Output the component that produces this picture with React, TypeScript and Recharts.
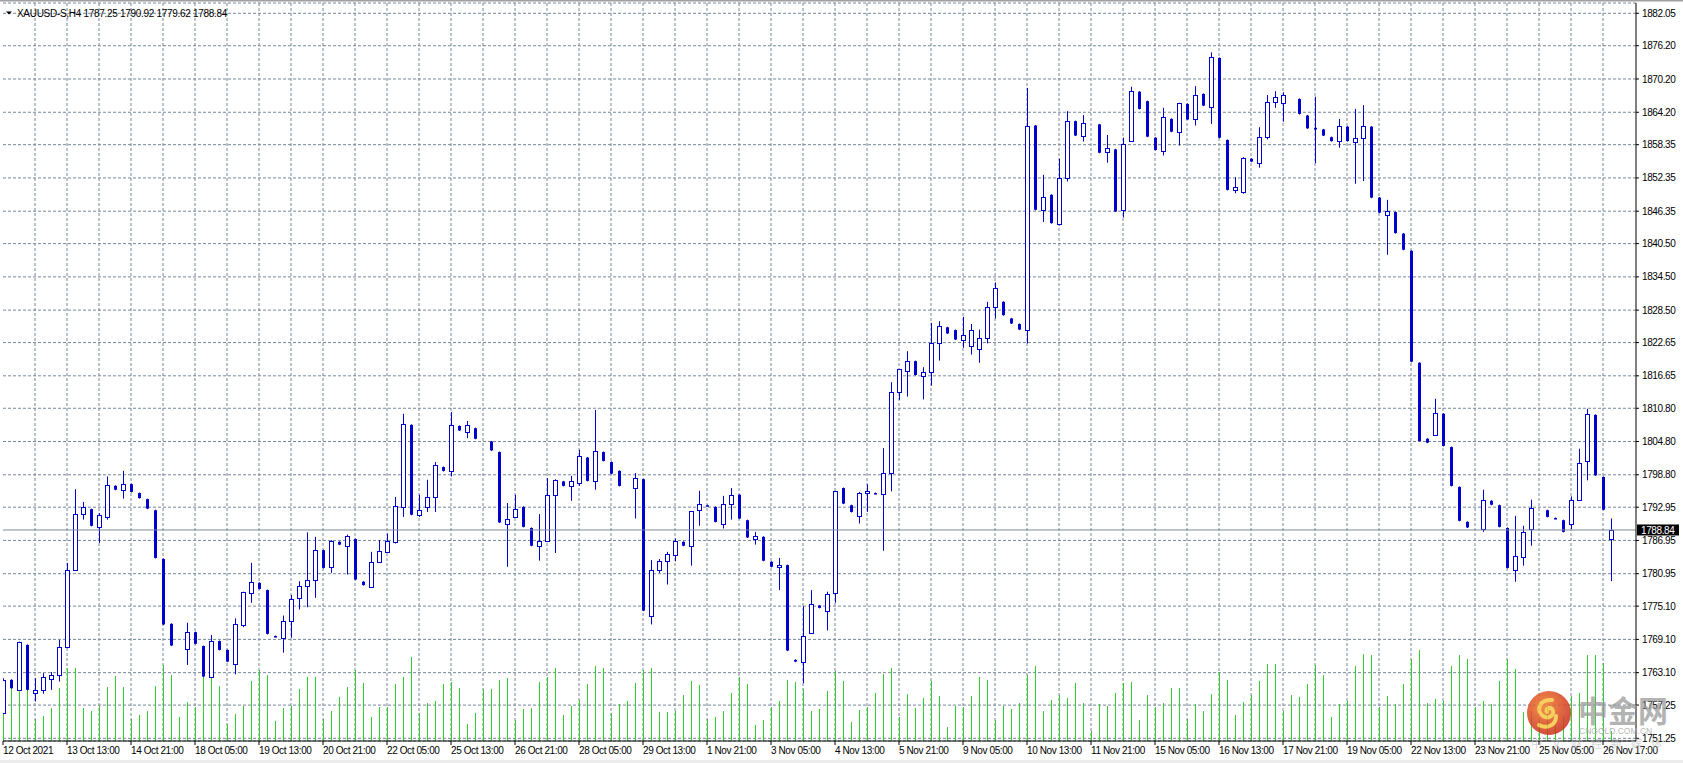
import React from 'react';
import { ComposedChart, Bar, XAxis, YAxis, CartesianGrid, ReferenceLine } from 'recharts';

const W = 1683;
const H = 763;
const XMAX = 204.125;
const FONT = '"Liberation Sans", Arial, sans-serif';
const BLUE = '#0000cd';
const GRID = '#778899';

const opens = [
  1755.9, 1761.8, 1760.0, 1768.1, 1759.4, 1760.0, 1762.0, 1762.6, 1767.7, 1781.6,
  1791.7, 1792.6, 1789.3, 1791.2, 1796.8, 1796.0, 1797.1, 1795.5, 1794.4, 1792.4,
  1783.6, 1771.9, 1768.2, 1767.4, 1770.4, 1767.9, 1762.3, 1768.8, 1767.2, 1764.7,
  1771.7, 1777.4, 1779.3, 1778.0, 1769.7, 1769.3, 1772.4, 1776.5, 1778.8, 1779.9,
  1785.2, 1782.2, 1786.7, 1785.9, 1787.2, 1779.5, 1778.6, 1783.1, 1784.9, 1786.6,
  1793.0, 1807.8, 1791.6, 1793.0, 1794.7, 1800.2, 1799.4, 1807.6, 1806.6, 1807.2,
  1805.1, 1804.8, 1802.9, 1789.9, 1791.1, 1793.0, 1789.2, 1785.9, 1786.8, 1795.1,
  1797.6, 1796.7, 1797.4, 1801.9, 1797.6, 1802.9, 1801.1, 1799.5, 1796.6, 1796.4,
  1798.0, 1773.4, 1781.7, 1783.2, 1784.4, 1786.7, 1785.9, 1792.4, 1793.3, 1793.0,
  1790.0, 1793.6, 1795.2, 1790.6, 1787.3, 1787.6, 1783.1, 1782.1, 1782.5, 1765.4,
  1765.0, 1770.3, 1775.2, 1774.3, 1777.4, 1796.4, 1793.3, 1791.3, 1795.5, 1795.5,
  1795.3, 1799.2, 1813.7, 1817.6, 1819.3, 1816.7, 1817.3, 1822.5, 1825.4, 1824.9,
  1823.1, 1822.0, 1821.5, 1823.5, 1829.0, 1830.0, 1827.0, 1826.0, 1825.0, 1861.8,
  1846.6, 1849.3, 1844.0, 1852.3, 1862.6, 1859.9, 1862.1, 1862.0, 1857.0, 1857.5,
  1846.5, 1859.1, 1867.9, 1866.2, 1859.6, 1857.3, 1863.0, 1860.6, 1865.7, 1862.9,
  1867.5, 1865.2, 1874.0, 1859.2, 1850.1, 1849.9, 1855.8, 1855.0, 1859.7, 1866.0,
  1865.8, 1866.6, 1866.6, 1863.6, 1861.4, 1861.1, 1859.7, 1859.0, 1861.6, 1858.8,
  1859.5, 1861.6, 1848.8, 1845.6, 1846.2, 1842.3, 1839.2, 1819.0, 1805.3, 1805.9,
  1809.8, 1803.8, 1796.6, 1790.3, 1789.2, 1789.1, 1794.1, 1793.3, 1789.2, 1781.7,
  1784.0, 1789.1, 1792.0, 1792.4, 1791.0, 1790.6, 1789.9, 1794.2, 1801.2, 1809.6,
  1798.4, 1787.25,
];

const highs = [
  1762.1, 1761.9, 1768.7, 1768.2, 1762.1, 1763.0, 1763.2, 1769.0, 1782.9, 1796.2,
  1793.9, 1792.7, 1791.9, 1798.5, 1796.9, 1799.5, 1797.2, 1795.6, 1794.5, 1792.5,
  1783.7, 1772.0, 1768.3, 1772.1, 1770.5, 1768.0, 1769.9, 1768.9, 1767.3, 1772.9,
  1777.7, 1782.9, 1779.4, 1778.1, 1769.8, 1773.4, 1777.1, 1779.6, 1788.4, 1787.6,
  1785.3, 1787.0, 1786.8, 1788.0, 1787.3, 1779.6, 1784.9, 1787.0, 1788.2, 1794.8,
  1809.8, 1807.9, 1795.2, 1797.9, 1801.1, 1800.3, 1810.1, 1807.7, 1808.5, 1807.3,
  1805.2, 1804.9, 1803.0, 1793.7, 1795.2, 1793.1, 1789.3, 1791.7, 1798.2, 1798.0,
  1797.7, 1798.6, 1803.3, 1802.0, 1810.5, 1803.0, 1801.2, 1799.6, 1796.7, 1799.1,
  1798.1, 1783.4, 1783.6, 1784.9, 1787.3, 1786.8, 1792.2, 1795.9, 1793.4, 1793.1,
  1795.0, 1796.4, 1795.3, 1790.7, 1788.5, 1787.7, 1783.2, 1783.8, 1782.6, 1765.5,
  1775.1, 1778.0, 1775.3, 1777.7, 1795.9, 1796.5, 1793.4, 1795.7, 1797.1, 1795.6,
  1803.6, 1815.5, 1817.9, 1821.1, 1819.4, 1818.2, 1826.2, 1826.5, 1825.5, 1825.0,
  1827.3, 1826.0, 1825.0, 1830.0, 1833.5, 1830.1, 1827.1, 1826.1, 1868.6, 1861.9,
  1852.9, 1849.4, 1855.8, 1864.4, 1862.7, 1863.7, 1862.2, 1862.1, 1860.1, 1857.6,
  1859.6, 1868.8, 1868.0, 1866.3, 1859.7, 1865.0, 1863.1, 1865.9, 1865.8, 1868.9,
  1867.6, 1875.0, 1874.1, 1859.3, 1852.5, 1856.1, 1855.9, 1861.5, 1867.3, 1868.0,
  1867.8, 1866.7, 1866.7, 1863.7, 1867.0, 1861.2, 1859.8, 1863.0, 1861.7, 1864.8,
  1865.5, 1861.7, 1848.9, 1848.4, 1846.3, 1842.4, 1839.3, 1819.1, 1805.4, 1812.5,
  1809.9, 1803.9, 1796.7, 1790.4, 1789.3, 1796.1, 1794.2, 1793.4, 1789.3, 1791.4,
  1789.6, 1794.3, 1792.1, 1792.5, 1791.1, 1790.7, 1794.9, 1803.5, 1810.7, 1809.7,
  1798.5, 1790.92,
];

const lows = [
  1755.7, 1760.2, 1759.9, 1759.9, 1757.9, 1759.3, 1760.0, 1761.5, 1767.5, 1781.5,
  1790.7, 1789.5, 1786.5, 1790.7, 1796.0, 1794.5, 1795.6, 1794.5, 1792.6, 1783.7,
  1771.7, 1767.9, 1768.1, 1764.5, 1768.2, 1762.3, 1762.2, 1767.1, 1765.0, 1762.8,
  1771.3, 1775.7, 1778.1, 1770.0, 1769.5, 1766.7, 1769.4, 1774.5, 1774.9, 1776.6,
  1781.9, 1781.1, 1786.1, 1780.8, 1779.8, 1778.8, 1778.4, 1782.9, 1784.7, 1786.4,
  1791.2, 1791.5, 1791.2, 1792.1, 1792.1, 1799.4, 1798.5, 1806.7, 1805.4, 1805.2,
  1805.0, 1803.1, 1790.1, 1782.2, 1791.0, 1789.3, 1785.9, 1783.3, 1786.7, 1784.7,
  1796.7, 1794.1, 1796.8, 1797.6, 1796.1, 1801.2, 1798.9, 1796.7, 1796.5, 1790.9,
  1774.2, 1771.8, 1781.1, 1779.0, 1783.2, 1785.9, 1782.4, 1789.6, 1793.2, 1790.2,
  1789.1, 1790.7, 1790.8, 1787.4, 1786.2, 1783.2, 1782.1, 1778.0, 1767.0, 1765.0,
  1761.2, 1770.2, 1774.7, 1770.7, 1775.7, 1793.5, 1792.0, 1790.0, 1792.1, 1795.4,
  1785.1, 1795.8, 1812.3, 1812.9, 1816.7, 1812.4, 1814.9, 1819.4, 1824.2, 1823.1,
  1821.7, 1820.5, 1819.0, 1822.5, 1827.0, 1827.5, 1826.0, 1824.9, 1822.5, 1846.5,
  1844.4, 1844.1, 1843.8, 1851.7, 1859.9, 1858.9, 1862.0, 1856.8, 1855.1, 1846.2,
  1845.2, 1859.0, 1864.7, 1859.7, 1857.3, 1856.4, 1860.6, 1858.2, 1862.8, 1861.8,
  1865.3, 1862.1, 1859.5, 1850.1, 1849.6, 1849.5, 1855.2, 1854.2, 1859.3, 1865.0,
  1862.5, 1866.5, 1863.8, 1861.2, 1855.0, 1859.9, 1858.9, 1857.8, 1858.9, 1851.3,
  1851.8, 1848.7, 1846.0, 1838.5, 1842.3, 1839.3, 1819.1, 1804.8, 1804.5, 1805.8,
  1803.9, 1796.7, 1790.4, 1789.2, 1789.1, 1788.5, 1793.3, 1789.3, 1781.9, 1779.5,
  1782.4, 1786.0, 1791.9, 1791.1, 1790.8, 1788.4, 1789.0, 1794.1, 1797.8, 1798.6,
  1792.4, 1779.62,
];

const closes = [
  1761.8, 1760.3, 1768.6, 1760.0, 1760.0, 1762.3, 1762.6, 1767.7, 1781.7, 1791.7,
  1793.0, 1789.6, 1791.5, 1796.9, 1796.1, 1797.1, 1795.7, 1794.6, 1792.7, 1783.8,
  1771.8, 1768.0, 1768.2, 1770.5, 1768.3, 1762.4, 1768.8, 1767.2, 1765.1, 1771.8,
  1777.6, 1779.4, 1778.2, 1770.1, 1769.6, 1772.4, 1776.3, 1778.8, 1779.9, 1785.3,
  1782.0, 1786.9, 1786.2, 1787.8, 1779.9, 1778.9, 1783.0, 1785.0, 1786.8, 1793.1,
  1808.0, 1791.6, 1792.4, 1794.7, 1800.5, 1799.5, 1807.7, 1806.8, 1807.7, 1805.3,
  1805.1, 1803.2, 1790.2, 1790.9, 1792.7, 1789.4, 1786.0, 1786.8, 1795.1, 1797.8,
  1796.8, 1797.6, 1802.1, 1797.7, 1803.0, 1801.3, 1799.0, 1796.8, 1796.6, 1798.2,
  1774.3, 1781.6, 1783.2, 1784.5, 1786.8, 1786.0, 1792.2, 1793.5, 1793.2, 1790.3,
  1793.6, 1795.1, 1790.9, 1787.5, 1787.8, 1783.3, 1782.2, 1782.5, 1767.1, 1765.1,
  1769.7, 1775.4, 1774.8, 1777.2, 1795.8, 1793.6, 1792.1, 1795.5, 1795.8, 1795.4,
  1799.2, 1813.7, 1817.8, 1819.4, 1816.8, 1817.3, 1822.5, 1825.6, 1824.3, 1823.2,
  1824.0, 1825.0, 1823.5, 1829.0, 1832.5, 1827.6, 1826.1, 1825.0, 1861.7, 1846.6,
  1849.0, 1844.2, 1852.3, 1862.7, 1860.0, 1862.2, 1862.1, 1856.9, 1857.7, 1846.3,
  1858.4, 1868.0, 1864.8, 1859.8, 1857.4, 1863.3, 1860.7, 1865.8, 1862.9, 1867.4,
  1865.4, 1874.1, 1859.6, 1850.2, 1850.8, 1855.9, 1855.3, 1859.7, 1866.0, 1867.0,
  1867.3, 1866.6, 1863.9, 1861.3, 1861.1, 1860.0, 1859.0, 1861.7, 1859.0, 1859.5,
  1861.7, 1848.8, 1846.1, 1846.4, 1842.4, 1839.4, 1819.2, 1804.9, 1804.6, 1809.9,
  1804.0, 1796.8, 1790.5, 1789.3, 1789.2, 1794.2, 1793.4, 1789.4, 1782.0, 1784.1,
  1788.4, 1792.8, 1792.0, 1791.2, 1790.9, 1788.5, 1794.2, 1801.0, 1809.7, 1798.7,
  1792.5, 1788.84,
];

const volumes = [
  360, 540, 660, 690, 220, 250, 330, 530, 730, 730,
  330, 300, 350, 540, 650, 540, 220, 260, 300, 550,
  760, 660, 240, 390, 340, 640, 760, 550, 170, 270,
  350, 600, 710, 660, 200, 330, 350, 520, 640, 640,
  220, 300, 440, 540, 710, 580, 240, 340, 340, 570,
  640, 840, 280, 380, 400, 570, 590, 530, 170, 280,
  520, 520, 610, 630, 210, 320, 330, 590, 640, 730,
  260, 350, 410, 570, 750, 730, 280, 370, 400, 580,
  710, 730, 290, 290, 300, 460, 600, 560, 220, 240,
  300, 480, 640, 570, 160, 210, 340, 400, 610, 590,
  520, 300, 320, 500, 700, 600, 190, 310, 340, 480,
  670, 730, 240, 470, 330, 430, 600, 450, 140, 350,
  340, 450, 640, 610, 210, 350, 320, 380, 660, 750,
  300, 410, 460, 430, 580, 380, 100, 370, 350, 480,
  580, 590, 210, 460, 340, 380, 530, 530, 220, 370,
  300, 470, 690, 610, 260, 390, 460, 600, 770, 770,
  300, 460, 440, 570, 760, 660, 240, 370, 400, 750,
  870, 860, 340, 450, 370, 570, 820, 910, 380, 420,
  400, 750, 860, 820, 340, 400, 370, 600, 820, 720,
  290, 300, 200, 350, 150, 250, 450, 480, 860, 860,
  780, 100,
];

const timeTicks = [0, 8, 16, 24, 32, 40, 48, 56, 64, 72, 80, 88, 96, 104, 112, 120, 128, 136, 144, 152, 160, 168, 176, 184, 192, 200];
const timeLabels = [
  '12 Oct 2021', '13 Oct 13:00', '14 Oct 21:00', '18 Oct 05:00', '19 Oct 13:00', '20 Oct 21:00',
  '22 Oct 05:00', '25 Oct 13:00', '26 Oct 21:00', '28 Oct 05:00', '29 Oct 13:00', '1 Nov 21:00',
  '3 Nov 05:00', '4 Nov 13:00', '5 Nov 21:00', '9 Nov 05:00', '10 Nov 13:00', '11 Nov 21:00',
  '15 Nov 05:00', '16 Nov 13:00', '17 Nov 21:00', '19 Nov 05:00', '22 Nov 13:00', '23 Nov 21:00',
  '25 Nov 05:00', '26 Nov 17:00',
];
const priceTicks = [
  1751.25, 1757.25, 1763.1, 1769.1, 1775.1, 1780.95, 1786.95, 1792.95, 1798.8, 1804.8, 1810.8, 1816.65,
  1822.65, 1828.5, 1834.5, 1840.5, 1846.35, 1852.35, 1858.35, 1864.2, 1870.2, 1876.2, 1882.05,
];
const priceDomain = [1750.77, 1883.91];
const gridBars = Array.from({ length: 50 }, (_, k) => 4 + k * 4);
const symbolName = 'XAUUSD-S,H4';
const last = opens.length - 1;
const bidPrice = closes[last];

const data = opens.map((o, i) => ({
  i,
  open: o,
  high: highs[i],
  low: lows[i],
  close: closes[i],
  vol: volumes[i],
}));

function Candle(props: any) {
  const { x, y, width, height, payload } = props;
  if (!payload) return <g />;
  const { open, close, high, low } = payload;
  if (open === close) return <g />;
  const cx = Math.round(x + width / 2);
  const span = high - low;
  const k = span > 0 ? height / span : 0;
  const yO = y + (high - open) * k;
  const yC = y + (high - close) * k;
  const wx = cx + 0.5;
  if (close > open) {
    const top = Math.round(yC) + 0.5;
    const bot = Math.round(yO) + 0.5;
    return (
      <g>
        <line x1={wx} x2={wx} y1={y} y2={y + height} stroke={BLUE} strokeWidth={1} />
        <rect x={cx - 1.5} y={top} width={4} height={Math.max(bot - top, 1)} fill="#ffffff" stroke={BLUE} strokeWidth={1} />
      </g>
    );
  }
  return (
    <g>
      <line x1={wx} x2={wx} y1={y} y2={y + height} stroke={BLUE} strokeWidth={1} />
      <rect x={cx - 1} y={yO} width={3} height={Math.max(yC - yO, 1.5)} fill={BLUE} />
    </g>
  );
}

function VolLine(props: any) {
  const { x, y, width, height } = props;
  const cx = Math.round(x + width / 2) + 0.5;
  return <line x1={cx} x2={cx} y1={y} y2={y + height} stroke="#32cd32" strokeWidth={1} />;
}

function TimeTick(props: any) {
  const { x, y, payload } = props;
  const idx = timeTicks.indexOf(payload.value);
  return (
    <text x={x} y={y} dy="0.71em" textAnchor="start" fontSize={10} letterSpacing={-0.4} fill="#000" fontFamily={FONT}>
      {timeLabels[idx]}
    </text>
  );
}

function PriceTick(props: any) {
  const { x, y, payload } = props;
  return (
    <text x={x} y={y} dy="0.355em" textAnchor="start" fontSize={10} letterSpacing={-0.4} fill="#000" fontFamily={FONT}>
      {Number(payload.value).toFixed(2)}
    </text>
  );
}

function BidLabel(props: any) {
  const vb = props.viewBox || {};
  const x = vb.x + vb.width;
  const y = vb.y;
  return (
    <g>
      <rect x={x + 1} y={y - 5.5} width={42} height={11} fill="#000" />
      <text x={x + 5} y={y} dy="0.355em" fontSize={10} letterSpacing={-0.4} fill="#fff" fontFamily={FONT}>
        {bidPrice.toFixed(2)}
      </text>
    </g>
  );
}

const vGen = (p: any) => {
  const xAxis = p && p.xAxis;
  const offset = p && p.offset;
  return gridBars
    .filter((b) => b < XMAX)
    .map((b) =>
      xAxis && typeof xAxis.scale === 'function' ? xAxis.scale(b) : offset.left + (b / XMAX) * offset.width,
    );
};

export default function App() {
  const o = data[last];
  const title = `${symbolName}  ${o.open.toFixed(2)} ${o.high.toFixed(2)} ${o.low.toFixed(2)} ${o.close.toFixed(2)}`;
  return (
    <div style={{ position: 'absolute', left: 0, top: 0, width: W, height: H, background: '#fff', overflow: 'hidden' }}>
      <ComposedChart width={W} height={H} data={data} margin={{ top: 3, right: 0, bottom: 0, left: 3 }}>
        <CartesianGrid
          xAxisId="main"
          yAxisId="price"
          stroke={GRID}
          strokeDasharray="3 2"
          verticalCoordinatesGenerator={vGen}
        />
        <XAxis
          xAxisId="main"
          type="number"
          dataKey="i"
          domain={[0, XMAX]}
          allowDataOverflow
          ticks={timeTicks}
          interval={0}
          tick={<TimeTick />}
          tickSize={4}
          tickMargin={2}
          tickLine={{ stroke: '#000' }}
          axisLine={{ stroke: '#000' }}
          height={22}
        />
        <XAxis xAxisId="v" type="number" dataKey="i" domain={[0, XMAX]} allowDataOverflow hide />
        <XAxis
          xAxisId="top"
          orientation="top"
          type="number"
          dataKey="i"
          domain={[0, XMAX]}
          allowDataOverflow
          height={0}
          tick={false}
          tickLine={false}
          axisLine={{ stroke: '#000' }}
        />
        <YAxis
          yAxisId="price"
          orientation="right"
          type="number"
          domain={priceDomain}
          allowDataOverflow
          ticks={priceTicks}
          interval={0}
          width={47}
          tick={<PriceTick />}
          tickSize={3}
          tickMargin={3}
          tickLine={{ stroke: '#000' }}
          axisLine={{ stroke: '#000' }}
        />
        <YAxis yAxisId="vol" type="number" domain={[0, 7380]} allowDataOverflow hide />
        <YAxis
          yAxisId="left"
          orientation="left"
          type="number"
          width={0}
          tick={false}
          tickLine={false}
          axisLine={{ stroke: '#000' }}
        />
        <Bar xAxisId="v" yAxisId="vol" dataKey="vol" barSize={1} shape={<VolLine />} isAnimationActive={false} />
        <Bar
          xAxisId="main"
          yAxisId="price"
          dataKey={(d: any) => [d.low, d.high]}
          barSize={8}
          shape={<Candle />}
          isAnimationActive={false}
        />
        <ReferenceLine xAxisId="main" yAxisId="price" y={bidPrice} stroke="#7d8a97" strokeWidth={1} label={<BidLabel />} />
      </ComposedChart>
      <svg width={W} height={H} style={{ position: 'absolute', left: 0, top: 0, pointerEvents: 'none' }}>
        <defs>
          <radialGradient id="logoGrad" cx="40%" cy="35%" r="70%">
            <stop offset="0%" stopColor="#f27a2a" />
            <stop offset="100%" stopColor="#c92a1c" />
          </radialGradient>
        </defs>
        <rect x={0} y={0} width={W} height={1.5} fill="#a0a0a0" />
        <rect x={0} y={760} width={W} height={3} fill="#ececec" />
        <polygon points="6,11.5 12,11.5 9,14.5" fill="#000" />
        <text x={17} y={16.5} fontSize={10} letterSpacing={-0.3} fill="#000" fontFamily={FONT}>
          {title}
        </text>
        <g opacity={0.85}>
          <circle cx={1549} cy={713} r={22} fill="url(#logoGrad)" />
          <path
            d="M1552 700 C1540 699 1535 710 1543 716 C1549 720 1556 714 1552 709 C1549 706 1545 710 1547 712 M1556 716 C1556 726 1546 729 1539 725"
            fill="none"
            stroke="#f5c842"
            strokeWidth={4}
            strokeLinecap="round"
          />
        </g>
        <text x={1578} y={722} fontSize={30} fontWeight={700} fill="#9a9a9a" opacity={0.75} fontFamily='"Noto Sans CJK SC", sans-serif'>
          中金网
        </text>
        <text x={1579} y={734} fontSize={8.5} fill="#a8a8a8" opacity={0.8} fontFamily={FONT}>
          CNGOLD.COM.CN
        </text>
        <text x={1531} y={748} fontSize={11} letterSpacing={9} fill="#b8b8b8" opacity={0.6} fontFamily='"Noto Sans CJK SC", sans-serif'>
          中文财经新媒体
        </text>
      </svg>
    </div>
  );
}
